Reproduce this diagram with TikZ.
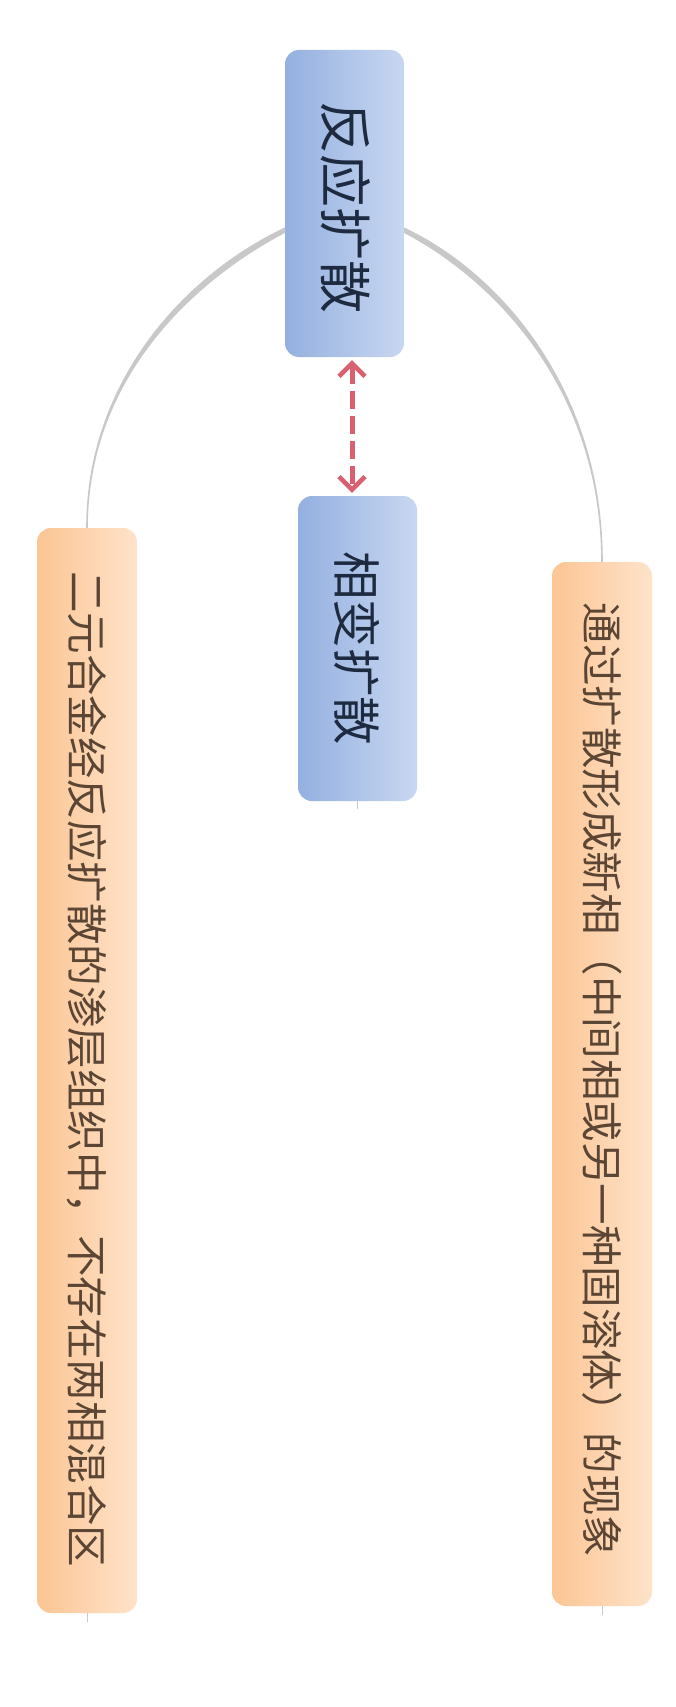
\documentclass[tikz,border=0pt]{standalone}
\usepackage{fontspec}
\newfontfamily\cjk{Noto Sans CJK SC}
\usetikzlibrary{arrows.meta,calc}
\definecolor{bluedark}{HTML}{94B0E0}
\definecolor{bluelight}{HTML}{C8D7F1}
\definecolor{orgdark}{HTML}{FCC594}
\definecolor{orglight}{HTML}{FEE3CA}
\definecolor{bluetext}{HTML}{1E2A40}
\definecolor{orgtext}{HTML}{5B4636}
\definecolor{linkgray}{HTML}{C8C8C8}
\definecolor{arrowred}{HTML}{D9606E}
\tikzset{
  bluebox/.style={rounded corners=14pt, left color=bluedark, right color=bluelight, draw=none, inner sep=0pt},
  orgbox/.style={rounded corners=14pt, left color=orgdark, right color=orglight, draw=none, inner sep=0pt},
  vtext/.style={rotate=-90, inner sep=0pt, font=\cjk},
  tailline/.style={draw=linkgray, line width=0.8pt},
  dasharrow/.style={draw=arrowred, line width=5pt, dash pattern=on 18pt off 7pt,
    {Straight Barb[length=13pt,width=26pt,line width=4.5pt]}-{Straight Barb[length=13pt,width=26pt,line width=4.5pt]}}
}
\begin{document}
\begin{tikzpicture}[x=1pt,y=-1pt]
\useasboundingbox (0,0) rectangle (676,1707);
\fill[white] (0,0) rectangle (676,1707);

% boxes
\node[bluebox, minimum width=119pt, minimum height=307pt] (top) at (344.5,203.5) {};
\node[bluebox, minimum width=119pt, minimum height=305pt] (mid) at (357.5,648.5) {};
\node[orgbox, minimum width=100pt, minimum height=1085pt] (left) at (87,1070.5) {};
\node[orgbox, minimum width=100pt, minimum height=1044pt] (right) at (602,1084) {};

% texts
\node[vtext, text=bluetext, font=\cjk\fontsize{53}{53}\selectfont] (topt) at (346,208) {反应扩散};
\node[vtext, text=bluetext, font=\cjk\fontsize{48.5}{48.5}\selectfont] (midt) at (357.5,648) {相变扩散};
\node[vtext, text=orgtext, font=\cjk\fontsize{41.5}{41.5}\selectfont] (leftt) at (87,1069) {二元合金经反应扩散的渗层组织中，不存在两相混合区};
\node[vtext, text=orgtext, font=\cjk\fontsize{41.5}{41.5}\selectfont] (rightt) at (602,1080) {通过扩散形成新相（中间相或另一种固溶体）的现象};

% tapered links
\fill[linkgray] ($(top.west)+(0,24)$) .. controls +(-96,45) and +(0,-150) .. ($(left.north)+(-0.8,0)$)
  -- ($(left.north)+(0.8,0)$) .. controls +(0,-148) and +(-93,49) .. ($(top.west)+(0,29.5)$) -- cycle;
\fill[linkgray] ($(top.east)+(0,24)$) .. controls +(96,45) and +(0,-172) .. ($(right.north)+(0.8,0)$)
  -- ($(right.north)+(-0.8,0)$) .. controls +(0,-170) and +(93,49) .. ($(top.east)+(0,29.5)$) -- cycle;

% tails
\coordinate (midtail) at ($(mid.south)+(0,8)$);
\coordinate (lefttail) at ($(left.south)+(0,9)$);
\coordinate (righttail) at ($(right.south)+(0,9)$);
\draw[tailline] (mid.south) -- (midtail);
\draw[tailline] (left.south) -- (lefttail);
\draw[tailline] (right.south) -- (righttail);

% dashed double arrow
\coordinate (a1) at (352,0 |- top.south);
\coordinate (a2) at (352,0 |- mid.north);
\draw[dasharrow] ($(a1)+(0,3)$) -- ($(a2)+(0,-3)$);
\end{tikzpicture}
\end{document}
